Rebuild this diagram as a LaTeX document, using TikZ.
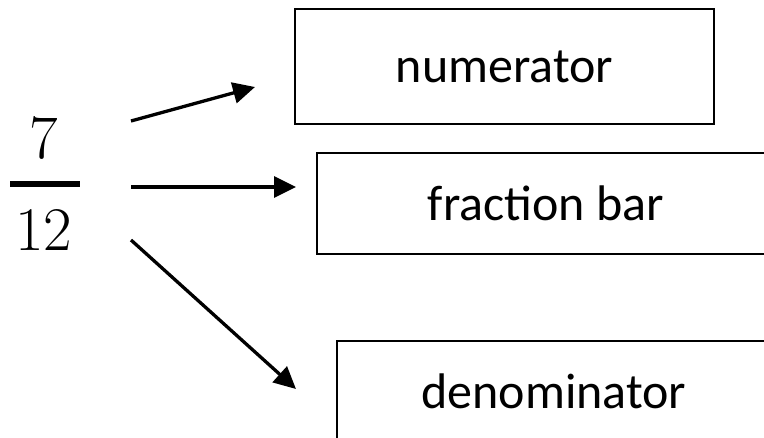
\documentclass[tikz,border=0pt]{standalone}
\usepackage{fontspec}
\setmainfont{Carlito}
\usetikzlibrary{arrows.meta}
\tikzset{
  labelbox/.style={draw=black, line width=1.5pt, inner sep=0pt, font=\fontsize{50}{50}\selectfont},
  digit/.style={inner sep=0pt, font=\fontspec{Latin Modern Roman}\fontsize{62}{62}\selectfont},
  arr/.style={line width=3.3pt, -{Triangle[length=22pt,width=21pt]}}
}
\begin{document}
\begin{tikzpicture}[x=1pt,y=-1pt]
\useasboundingbox (0,0) rectangle (764,438);
\clip (0,0) rectangle (764,438);
% fraction
\node[digit] (num) at (43.5,138.5) {7};
\node[digit] (den) at (44,230) {12};
\coordinate (barL) at (10,184);
\coordinate (barR) at (80,184);
\draw[line width=6pt] (barL) -- (barR);
% boxes
\node[labelbox, minimum width=419pt, minimum height=115pt] (bnum) at (504.5,66.5) {numerator};
\node[labelbox, minimum width=458pt, minimum height=101pt] (bbar) at (546,203.5) {fraction bar};
\node[labelbox, minimum width=434pt, minimum height=100pt] (bden) at (554,391) {denominator};
% arrows
\coordinate (s1) at (131,121);
\coordinate (t1) at (255,87);
\coordinate (s2) at (131,187);
\coordinate (t2) at (296,187);
\coordinate (s3) at (131,240);
\coordinate (t3) at (296,389);
\draw[arr] (s1) -- (t1);
\draw[arr] (s2) -- (t2);
\draw[arr] (s3) -- (t3);
\end{tikzpicture}
\end{document}
